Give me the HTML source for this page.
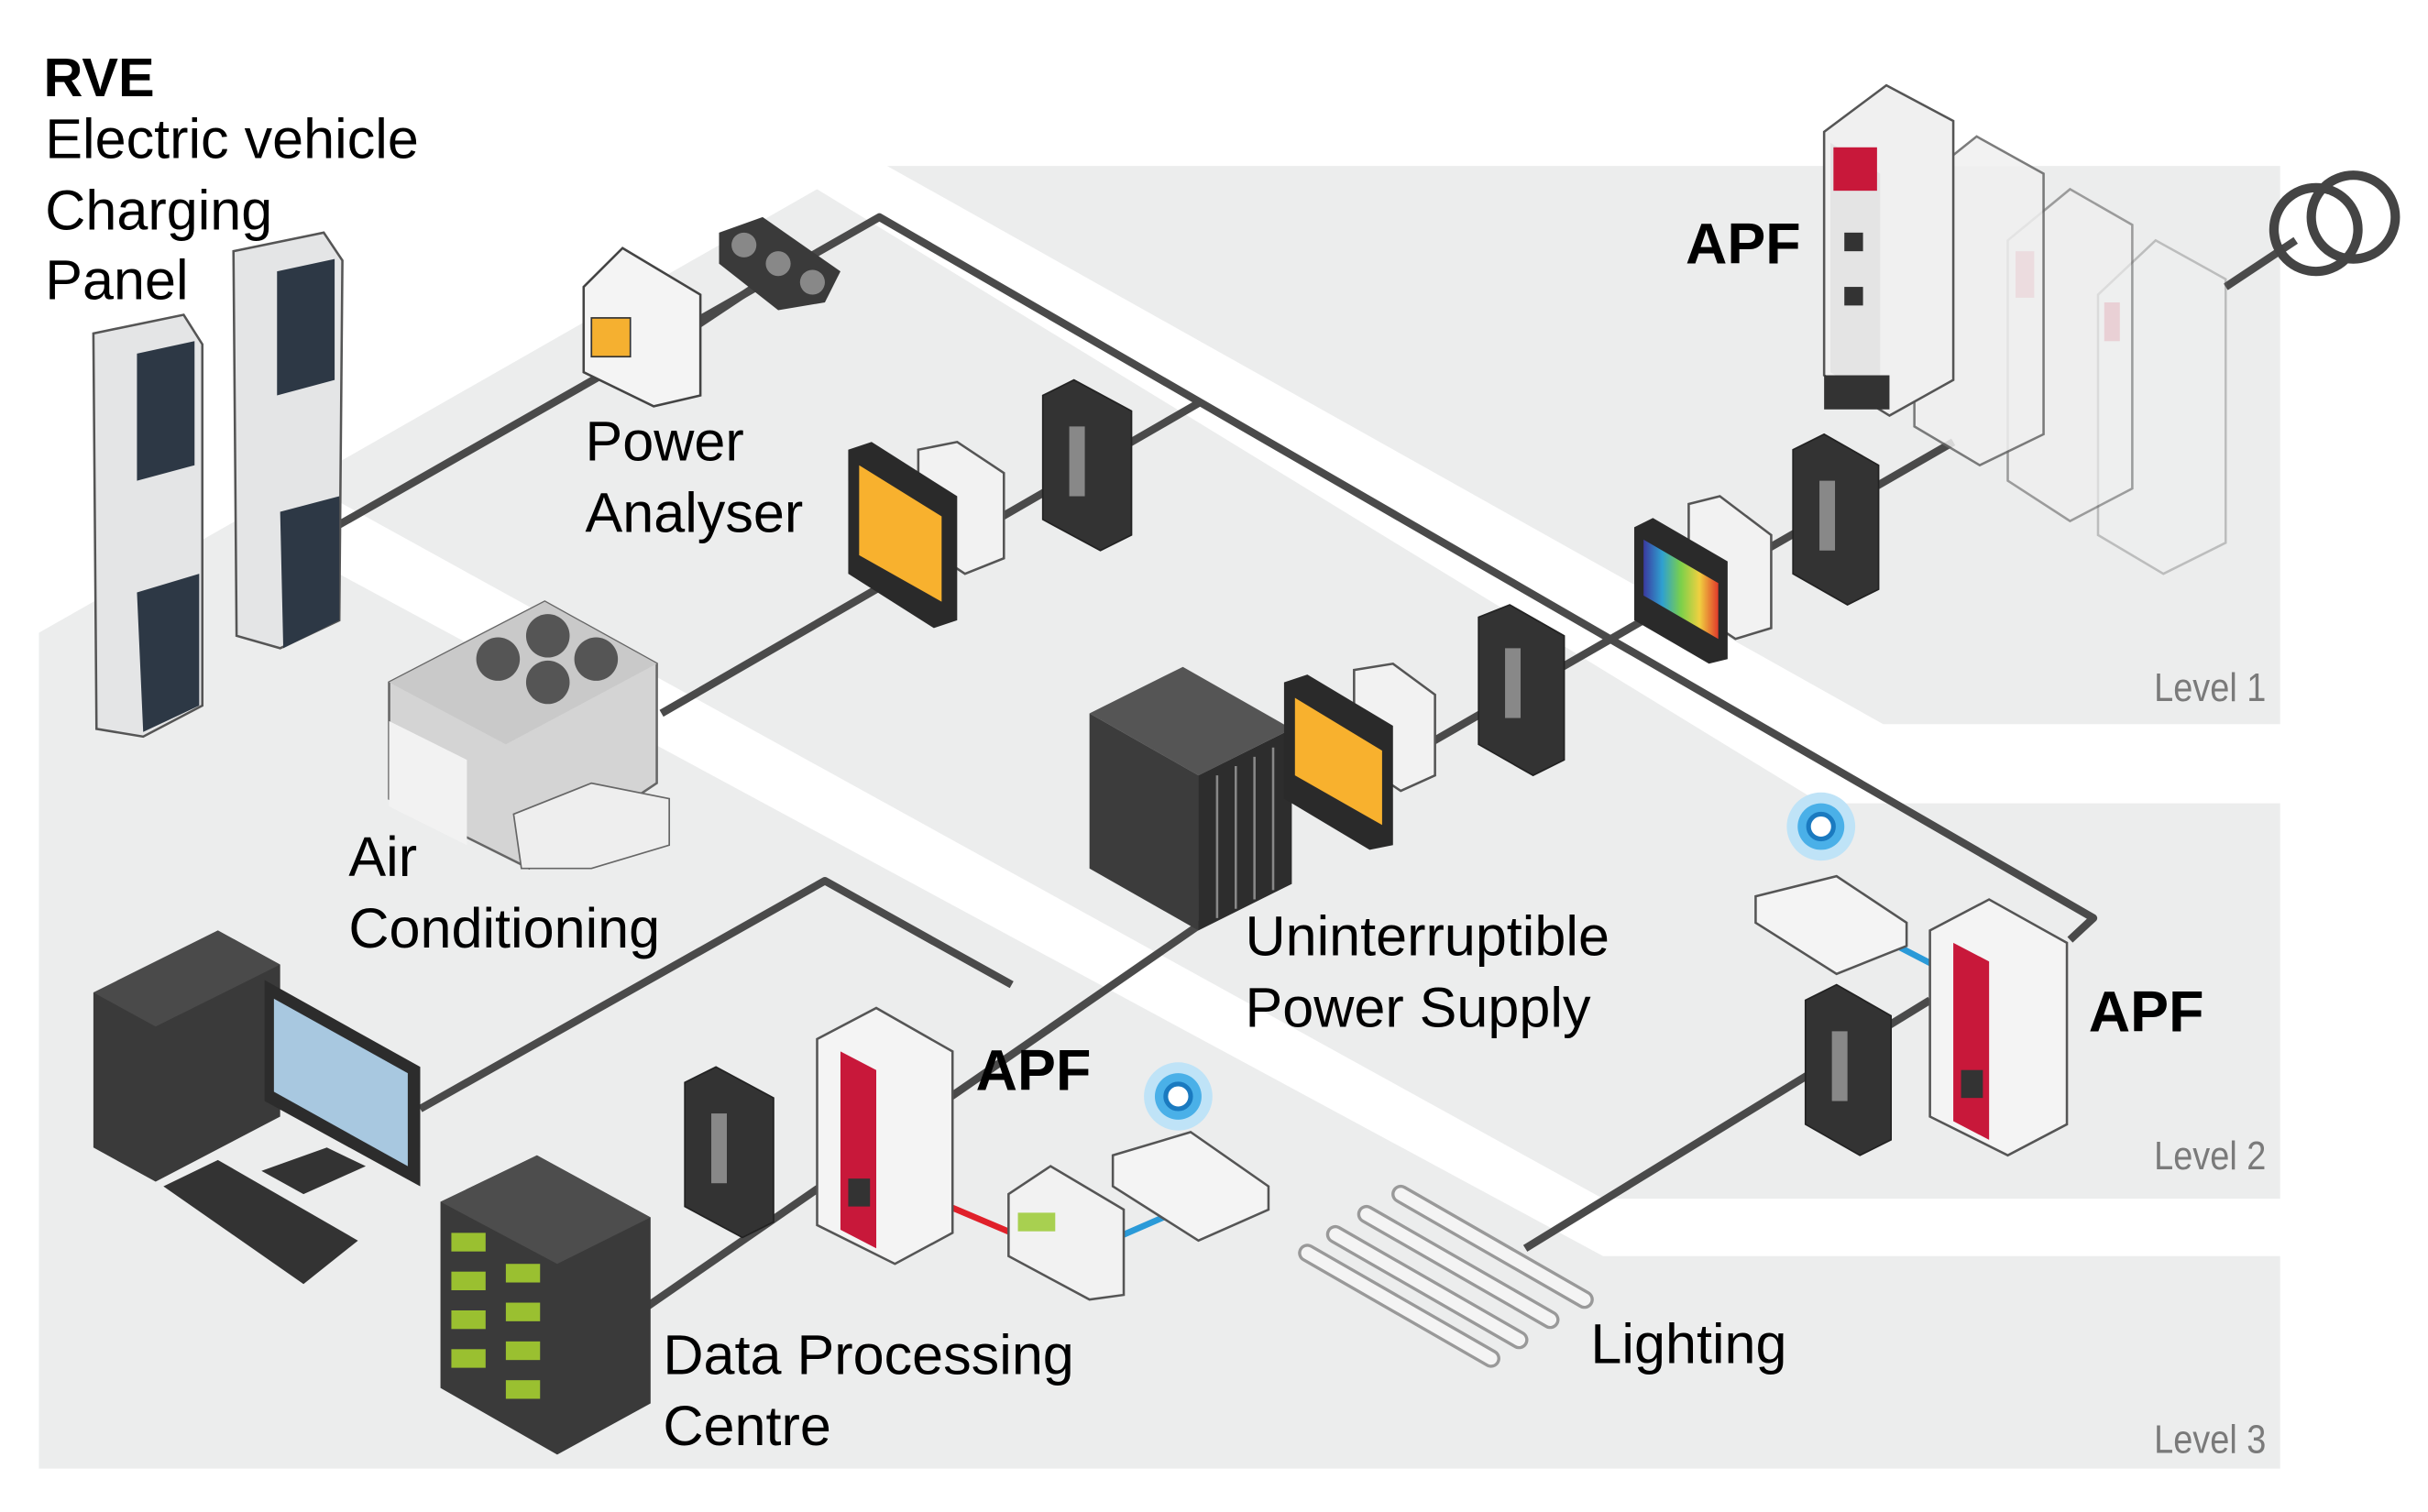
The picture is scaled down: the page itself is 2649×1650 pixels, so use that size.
<!DOCTYPE html>
<html><head><meta charset="utf-8">
<style>
html,body{margin:0;padding:0;background:#fff;}
svg{display:block;}
text{font-family:"Liberation Sans",sans-serif;}
</style></head>
<body>
<svg width="2649" height="1650" viewBox="0 0 1560 975" preserveAspectRatio="none" xmlns="http://www.w3.org/2000/svg">
<defs>
<linearGradient id="rb" x1="0" y1="0" x2="1" y2="0">
<stop offset="0" stop-color="#3a3aa0"/><stop offset="0.25" stop-color="#2fa0d0"/><stop offset="0.5" stop-color="#7bd04a"/><stop offset="0.75" stop-color="#f0d040"/><stop offset="1" stop-color="#e03a2a"/>
</linearGradient>
</defs>
<rect width="1560" height="975" fill="#fff"/>
<!-- background regions -->
<polygon points="570,107 1465,107 1465,467 1210,467" fill="#eceded"/>
<polygon points="525,122 1170,518 1465,518 1465,773 1030,773 195,311" fill="#eceded"/>
<polygon points="153,335 25,408 25,947 1465,947 1465,810 1030,810" fill="#eceded"/>

<!-- cables -->
<g stroke="#4a4a4a" stroke-width="5" fill="none" stroke-linejoin="round">
<polyline points="215,340 565,140 1345,592 1330,606"/>
<line x1="425" y1="460" x2="770" y2="260"/>
<polyline points="270,715 530,568 650,635"/>
<line x1="405" y1="850" x2="790" y2="583"/>
<line x1="900" y1="490" x2="1255" y2="285"/>
<line x1="1430" y1="185" x2="1475" y2="155"/>
<line x1="980" y1="805" x2="1240" y2="645"/>
<line x1="440" y1="215" x2="500" y2="175"/>
</g>
<g stroke-width="4">
<line x1="610" y1="778" x2="650" y2="795" stroke="#e0202a"/>
<line x1="720" y1="797" x2="752" y2="783" stroke="#2a9ad8"/>
<line x1="1215" y1="608" x2="1242" y2="622" stroke="#2a9ad8"/>
</g>

<!-- chargers -->
<g>
<polygon points="60,215 118,203 130,222 130,455 92,475 62,470" fill="#e4e5e6" stroke="#555" stroke-width="1.5"/>
<polygon points="88,228 125,220 125,300 88,310" fill="#2d3845"/>
<polygon points="88,382 128,370 128,455 92,472" fill="#2d3845"/>
<polygon points="150,162 208,150 220,168 218,400 180,418 152,410" fill="#e4e5e6" stroke="#555" stroke-width="1.5"/>
<polygon points="178,175 215,167 215,245 178,255" fill="#2d3845"/>
<polygon points="180,330 218,320 218,400 182,418" fill="#2d3845"/>
</g>

<!-- power meter & CT pill -->
<polygon points="375,185 400,160 450,190 450,255 420,262 375,240" fill="#f4f4f4" stroke="#444" stroke-width="1.5"/>
<rect x="380" y="205" width="25" height="25" fill="#f5b030" stroke="#333"/>
<polygon points="462,150 490,140 540,175 530,195 500,200 462,170" fill="#3a3a3a"/>
<circle cx="478" cy="158" r="8" fill="#888"/><circle cx="500" cy="170" r="8" fill="#888"/><circle cx="522" cy="182" r="8" fill="#888"/>

<!-- power analyser -->
<polygon points="590,290 615,285 645,305 645,360 620,370 590,350" fill="#f2f2f2" stroke="#555" stroke-width="1.5"/>
<polygon points="545,290 560,285 615,320 615,400 600,405 545,370" fill="#2a2a2a"/>
<polygon points="552,300 605,333 605,388 552,358" fill="#f8b12e"/>

<!-- CT clamps -->
<g fill="#333" stroke="#222">
<polygon points="670,255 690,245 727,265 727,345 707,355 670,335"/>
<polygon points="950,398 970,390 1005,410 1005,490 985,500 950,480"/>
<polygon points="1152,290 1172,280 1207,300 1207,380 1187,390 1152,370"/>
<polygon points="1160,645 1180,635 1215,655 1215,735 1195,745 1160,725"/>
<polygon points="440,698 460,688 497,708 497,788 477,798 440,778"/>
</g>
<g fill="#888">
<rect x="687" y="275" width="10" height="45"/><rect x="967" y="418" width="10" height="45"/>
<rect x="1169" y="310" width="10" height="45"/><rect x="1177" y="665" width="10" height="45"/>
<rect x="457" y="718" width="10" height="45"/>
</g>

<!-- AC -->
<polygon points="250,440 350,388 422,428 422,505 340,560 250,515" fill="#d4d4d4" stroke="#666" stroke-width="1.5"/>
<polygon points="250,440 350,388 422,428 325,480" fill="#c9c9c9"/>
<circle cx="320" cy="425" r="14" fill="#555"/><circle cx="352" cy="410" r="14" fill="#555"/>
<circle cx="352" cy="440" r="14" fill="#555"/><circle cx="383" cy="425" r="14" fill="#555"/>
<polygon points="250,465 300,490 300,545 250,520" fill="#f2f2f2"/>
<polygon points="330,525 380,505 430,515 430,545 380,560 335,560" fill="#eee" stroke="#666"/>

<!-- UPS -->
<polygon points="700,460 760,430 830,470 770,500" fill="#555"/>
<polygon points="700,460 770,500 770,600 700,560" fill="#3c3c3c"/>
<polygon points="770,500 830,470 830,570 770,600" fill="#2d2d2d"/>
<g stroke="#888" stroke-width="1.5">
<line x1="782" y1="500" x2="782" y2="592"/><line x1="794" y1="494" x2="794" y2="586"/><line x1="806" y1="488" x2="806" y2="580"/><line x1="818" y1="482" x2="818" y2="574"/>
</g>
<polygon points="870,432 895,428 922,448 922,500 900,510 870,490" fill="#f2f2f2" stroke="#555" stroke-width="1.5"/>
<polygon points="825,440 840,435 895,468 895,545 880,548 825,515" fill="#2a2a2a"/>
<polygon points="832,450 888,484 888,532 832,500" fill="#f8b12e"/>

<!-- spectrum meter -->
<polygon points="1085,325 1105,320 1138,345 1138,405 1115,412 1085,392" fill="#f2f2f2" stroke="#555" stroke-width="1.5"/>
<polygon points="1050,340 1062,334 1110,362 1110,425 1098,428 1050,400" fill="#2a2a2a"/>
<polygon points="1056,348 1104,376 1104,412 1056,384" fill="url(#rb)"/>

<!-- APF cabinets level1 -->
<g>
<g opacity="0.35"><polygon points="1348,190 1385,155 1430,180 1430,350 1390,370 1348,345" fill="#f0f0f0" stroke="#666" stroke-width="1.5"/><rect x="1352" y="195" width="10" height="25" fill="#c8183a"/></g>
<g opacity="0.6"><polygon points="1290,155 1330,122 1370,145 1370,315 1330,336 1290,310" fill="#f0f0f0" stroke="#666" stroke-width="1.5"/><rect x="1295" y="162" width="12" height="30" fill="#c8183a"/></g>
<g opacity="0.85"><polygon points="1230,120 1270,88 1313,112 1313,280 1272,300 1230,275" fill="#f0f0f0" stroke="#666" stroke-width="1.5"/><rect x="1236" y="127" width="14" height="32" fill="#c8183a"/></g>
<polygon points="1172,85 1212,55 1255,78 1255,245 1214,268 1172,242" fill="#f0f0f0" stroke="#555" stroke-width="1.5"/>
<polygon points="1176,92 1208,112 1208,260 1176,240" fill="#e4e4e4"/>
<rect x="1178" y="95" width="28" height="28" fill="#c8183a"/>
<rect x="1185" y="150" width="12" height="12" fill="#333"/><rect x="1185" y="185" width="12" height="12" fill="#333"/>
<rect x="1172" y="242" width="42" height="22" fill="#333"/>
</g>
<!-- transformer -->
<circle cx="1488" cy="148" r="27" fill="none" stroke="#444" stroke-width="6"/>
<circle cx="1512" cy="140" r="27" fill="none" stroke="#444" stroke-width="6"/>

<!-- wifi level2 -->
<circle cx="1170" cy="533" r="22" fill="#bfe3f7"/><circle cx="1170" cy="533" r="15" fill="#4ab0e8"/><circle cx="1170" cy="533" r="8" fill="#fff" stroke="#1a7ac0" stroke-width="3"/>
<polygon points="1128,578 1180,565 1225,595 1225,610 1180,628 1128,595" fill="#f4f4f4" stroke="#555" stroke-width="1.5"/>
<!-- APF level2 -->
<polygon points="1240,600 1278,580 1328,608 1328,725 1290,745 1240,720" fill="#f4f4f4" stroke="#555" stroke-width="1.5"/>
<polygon points="1255,608 1278,620 1278,735 1255,723" fill="#c8183a"/>
<rect x="1260" y="690" width="14" height="18" fill="#333"/>

<!-- APF level3 -->
<polygon points="525,670 563,650 612,678 612,795 575,815 525,790" fill="#f4f4f4" stroke="#555" stroke-width="1.5"/>
<polygon points="540,678 563,690 563,805 540,793" fill="#c8183a"/>
<rect x="545" y="760" width="14" height="18" fill="#333"/>
<!-- DIN & router level3 -->
<polygon points="648,770 675,752 722,780 722,835 700,838 648,810" fill="#f2f2f2" stroke="#555" stroke-width="1.5"/>
<rect x="654" y="782" width="24" height="12" fill="#a8d050"/>
<circle cx="757" cy="707" r="22" fill="#bfe3f7"/><circle cx="757" cy="707" r="15" fill="#4ab0e8"/><circle cx="757" cy="707" r="8" fill="#fff" stroke="#1a7ac0" stroke-width="3"/>
<polygon points="715,745 765,730 815,765 815,780 770,800 715,765" fill="#f4f4f4" stroke="#555" stroke-width="1.5"/>

<!-- computer -->
<polygon points="60,640 140,600 180,622 180,720 100,762 60,740" fill="#3a3a3a"/>
<polygon points="60,640 140,600 180,622 100,662" fill="#4a4a4a"/>
<polygon points="170,632 270,688 270,765 170,710" fill="#2c2c2c"/>
<polygon points="176,644 262,692 262,752 176,704" fill="#a8c8e0"/>
<polygon points="168,755 210,740 235,752 195,770" fill="#333"/>
<polygon points="105,765 140,748 230,800 195,828" fill="#333"/>

<!-- data centre -->
<polygon points="283,775 345,745 418,785 418,905 358,938 283,895" fill="#3a3a3a"/>
<polygon points="283,775 345,745 418,785 358,815" fill="#4d4d4d"/>
<g fill="#9ac030">
<rect x="290" y="795" width="22" height="12"/><rect x="290" y="820" width="22" height="12"/><rect x="290" y="845" width="22" height="12"/><rect x="290" y="870" width="22" height="12"/>
<rect x="325" y="815" width="22" height="12"/><rect x="325" y="840" width="22" height="12"/><rect x="325" y="865" width="22" height="12"/><rect x="325" y="890" width="22" height="12"/>
</g>

<!-- lighting -->
<g stroke="#999" stroke-width="12" stroke-linecap="round">
<line x1="900" y1="770" x2="1018" y2="838"/><line x1="878" y1="783" x2="996" y2="851"/>
<line x1="858" y1="796" x2="976" y2="864"/><line x1="840" y1="808" x2="958" y2="876"/>
</g>
<g stroke="#f4f4f4" stroke-width="8" stroke-linecap="round">
<line x1="900" y1="770" x2="1018" y2="838"/><line x1="878" y1="783" x2="996" y2="851"/>
<line x1="858" y1="796" x2="976" y2="864"/><line x1="840" y1="808" x2="958" y2="876"/>
</g>

<!-- labels -->
<g fill="#000" font-size="36">
<text x="28" y="62" font-weight="bold" font-size="35">RVE</text>
<text x="29" y="102">Electric vehicle</text>
<text x="29" y="148">Charging</text>
<text x="29" y="193">Panel</text>
<text x="376" y="297">Power</text>
<text x="376" y="343">Analyser</text>
<text x="224" y="565">Air</text>
<text x="224" y="611">Conditioning</text>
<text x="800" y="616">Uninterruptible</text>
<text x="800" y="662">Power Supply</text>
<text x="426" y="886">Data Processing</text>
<text x="426" y="932">Centre</text>
<text x="1022" y="879">Lighting</text>
<text x="1083" y="170" font-weight="bold" font-size="37">APF</text>
<text x="1342" y="665" font-weight="bold" font-size="37">APF</text>
<text x="627" y="703" font-weight="bold" font-size="37">APF</text>
</g>
<g fill="#7a7a7a" font-size="26">
<text x="1384" y="452" textLength="72" lengthAdjust="spacingAndGlyphs">Level 1</text>
<text x="1384" y="754" textLength="72" lengthAdjust="spacingAndGlyphs">Level 2</text>
<text x="1384" y="937" textLength="72" lengthAdjust="spacingAndGlyphs">Level 3</text>
</g>
</svg>
</body></html>
